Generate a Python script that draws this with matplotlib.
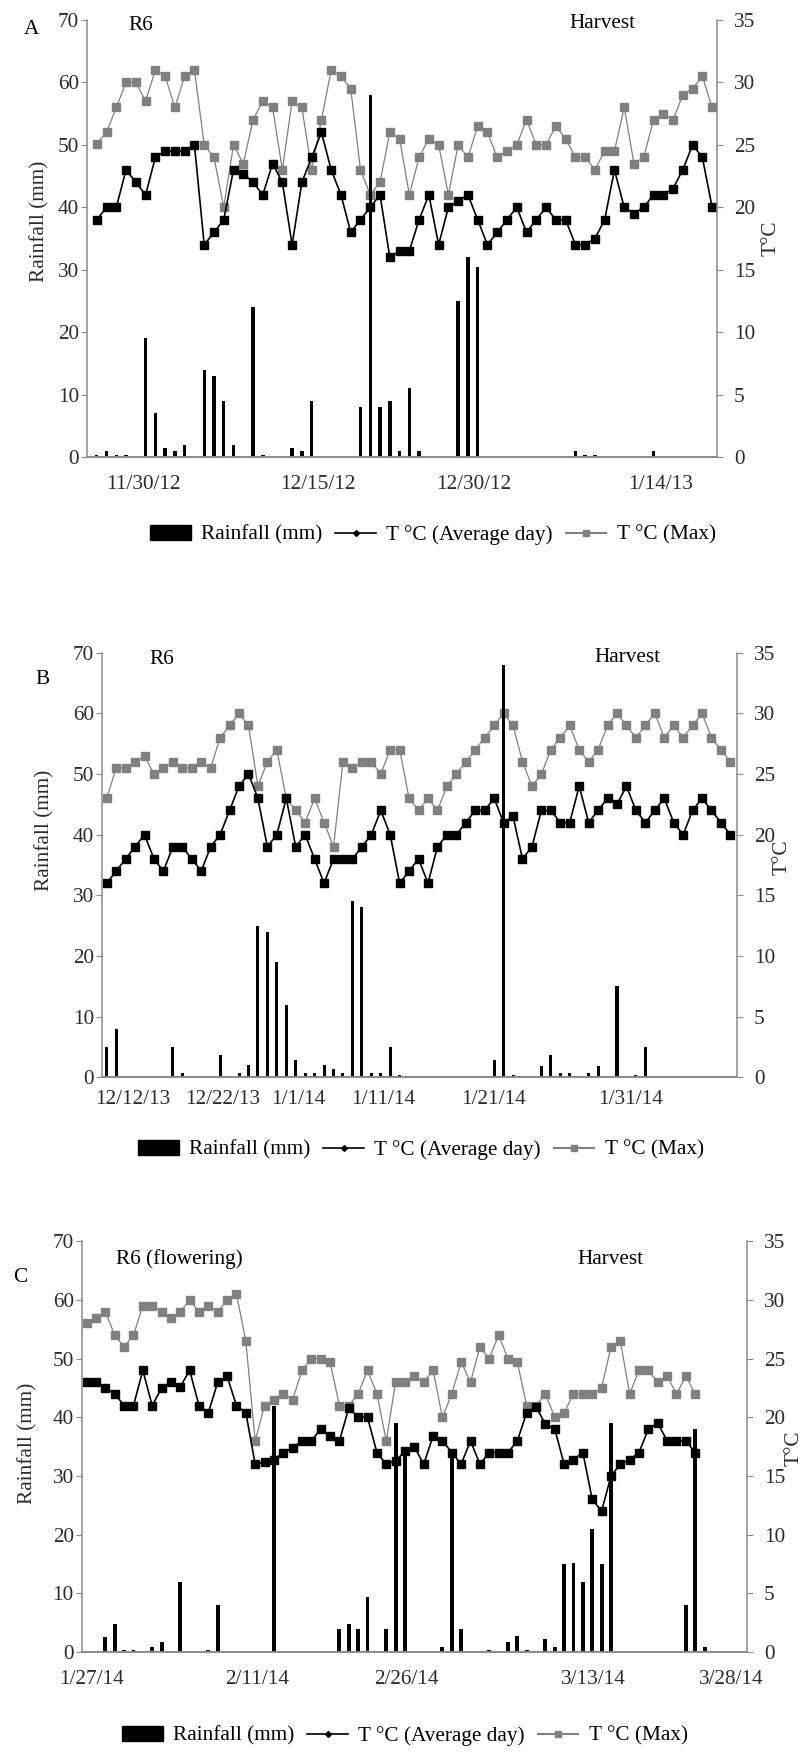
import matplotlib.pyplot as plt
from matplotlib.patches import Patch
from matplotlib.lines import Line2D
import numpy as np

plt.rcParams['font.family'] = ['Liberation Serif', 'DejaVu Serif']

W, H = 811, 1753
FS = 15.3
TXT = '#2b2b2b'
AXC = '#8a8a8a'
GRAY = '#808080'

# ---------------- panel A (daily, 64 days) ----------------
a_tmax = [25.1, 26, 28, 30, 30, 28.5, 31, 30.5, 28, 30.5,
          31, 25, 24, 20, 25, 23.5, 27, 28.5, 28, 23,
          28.5, 28, 23, 27, 31, 30.5, 29.5, 23, 21, 22,
          26, 25.5, 21, 24, 25.5, 25, 21, 25, 24, 26.5,
          26, 24, 24.5, 25, 27, 25, 25, 26.5, 25.5, 24,
          24, 23, 24.5, 24.5, 28, 23.5, 24, 27, 27.5, 27,
          29, 29.5, 30.5, 28]
a_tavg = [19, 20, 20, 23, 22, 21, 24, 24.5, 24.5, 24.5,
          25, 17, 18, 19, 23, 22.7, 22, 21, 23.5, 22,
          17, 22, 24, 26, 23, 21, 18, 19, 20, 21,
          16, 16.5, 16.5, 19, 21, 17, 20, 20.5, 21, 19,
          17, 18, 19, 20, 18, 19, 20, 19, 19, 17,
          17, 17.5, 19, 23, 20, 19.5, 20, 21, 21, 21.5,
          23, 25, 24, 20]
a_rain = [0.4, 1, 0.4, 0.4, 0, 19, 7, 1.5, 1, 2,
          0, 14, 13, 9, 2, 0, 24, 0.3, 0, 0,
          1.5, 1, 9, 0, 0, 0, 0, 8, 58, 8,
          9, 1, 11, 1, 0, 0, 0, 25, 32, 30.5,
          0, 0, 0, 0, 0, 0, 0, 0, 0, 1,
          0.4, 0.3, 0, 0, 0, 0, 0, 1, 0, 0,
          0, 0, 0, 0]
a_tick_pos = [5.8, 23.6, 39.6, 58.7]
a_tick_lab = ['11/30/12', '12/15/12', '12/30/12', '1/14/13']

# ---------------- panel B (daily, 67 days) ----------------
b_tmax = [23, 25.5, 25.5, 26, 26.5, 25, 25.5, 26, 25.5, 25.5,
          26, 25.5, 28, 29, 30, 29, 24, 26, 27, 23,
          22, 21, 23, 21, 19, 26, 25.5, 26, 26, 25,
          27, 27, 23, 22, 23, 22, 24, 25, 26, 27,
          28, 29, 30, 29, 26, 24, 25, 27, 28, 29,
          27, 26, 27, 29, 30, 29, 28, 29, 30, 28,
          29, 28, 29, 30, 28, 27, 26]
b_tavg = [16, 17, 18, 19, 20, 18, 17, 19, 19, 18,
          17, 19, 20, 22, 24, 25, 23, 19, 20, 23,
          19, 20, 18, 16, 18, 18, 18, 19, 20, 22,
          20, 16, 17, 18, 16, 19, 20, 20, 21, 22,
          22, 23, 21, 21.5, 18, 19, 22, 22, 21, 21,
          24, 21, 22, 23, 22.5, 24, 22, 21, 22, 23,
          21, 20, 22, 23, 22, 21, 20]
b_rain = [5, 8, 0, 0, 0, 0, 0, 5, 0.7, 0,
          0, 0, 3.7, 0, 0.7, 2, 25, 24, 19, 12,
          2.8, 0.7, 0.7, 2, 1.3, 0.7, 29, 28, 0.7, 0.7,
          5, 0.4, 0, 0, 0, 0, 0, 0, 0, 0,
          0, 2.8, 68, 0.4, 0, 0, 1.9, 3.7, 0.7, 0.7,
          0, 0.7, 1.9, 0, 15, 0, 0.4, 5, 0, 0,
          0, 0, 0, 0, 0, 0, 0]
b_tick_pos = [3.8, 13.3, 21.3, 30.3, 41.9, 56.4]
b_tick_lab = ['12/12/13', '12/22/13', '1/1/14', '1/11/14', '1/21/14', '1/31/14']

# ---------------- panel C (66 days temp, 67 days rain) ----------------
c_tmax = [28, 28.5, 29, 27, 26, 27, 29.5, 29.5, 29, 28.5,
          29, 30, 29, 29.5, 29, 30, 30.5, 26.5, 18, 21,
          21.5, 22, 21.5, 24, 25, 25, 24.7, 21, 21, 22,
          24, 22, 18, 23, 23, 23.5, 23, 24, 20, 22,
          24.7, 23, 26, 25, 27, 25, 24.7, 21, 21, 22,
          20, 20.4, 22, 22, 22, 22.5, 26, 26.5, 22, 24,
          24, 23, 23.5, 22, 23.5, 22]
c_tavg = [23, 23, 22.5, 22, 21, 21, 24, 21, 22.5, 23,
          22.6, 24, 21, 20.4, 23, 23.5, 21, 20.4, 16, 16.2,
          16.4, 17, 17.4, 18, 18, 19, 18.4, 18, 20.8, 20,
          20, 17, 16, 16.3, 17.1, 17.5, 16, 18.4, 18, 17,
          16, 18, 16, 17, 17, 17, 18, 20.4, 20.9, 19.4,
          19, 16, 16.4, 17, 13, 12, 15, 16, 16.4, 17,
          19, 19.5, 18, 18, 18, 17]
c_rain = [0, 0, 2.6, 4.8, 0.3, 0.3, 0, 0.9, 1.7, 0,
          12, 0, 0, 0.3, 8, 0, 0, 0, 0, 0,
          42, 0, 0, 0, 0, 0, 0, 4, 4.8, 4,
          9.3, 0, 4, 39, 34.5, 0, 0, 0, 0.9, 34,
          4, 0, 0, 0.3, 0, 1.7, 2.8, 0.3, 0, 2.3,
          0.9, 15, 15.2, 12, 21, 15, 39, 0, 0, 0,
          0, 0, 0, 0, 8, 38, 0.9]
c_tick_pos = [1.5, 19.2, 35.2, 55.1, 69.8]
c_tick_lab = ['1/27/14', '2/11/14', '2/26/14', '3/13/14', '3/28/14']


def fx(px):
    return px / W


def fy(py):
    return 1 - py / H


fig = plt.figure(figsize=(W / 100, H / 100), dpi=100)


def panel(box, tmax, tavg, rain, tpos, tlab, xlim, barw, xpad,
          ylab_l, ylab_r, texts, leg_xy):
    l, t, r, b = box
    ax = fig.add_axes([fx(l), fy(b), (r - l) / W, (b - t) / H])
    ax2 = ax.twinx()

    days_t = np.arange(1, len(tmax) + 1)
    days_r = np.arange(1, len(rain) + 1)

    ax2.plot(days_t, tmax, color=GRAY, lw=0.9, marker='s', ms=5.3,
             mfc=GRAY, mec=GRAY)
    ax2.plot(days_t, tavg, color='black', lw=1.2, marker='s', ms=5.3,
             mfc='black', mec='black')
    ax.bar(days_r, rain, width=barw, color='black')

    # rainfall bars drawn over the temperature lines
    ax.set_zorder(ax2.get_zorder() + 1)
    ax.patch.set_visible(False)

    ax.set_xlim(*xlim)
    ax.set_ylim(0, 70)
    ax2.set_ylim(0, 35)
    ax.set_yticks(np.arange(0, 71, 10))
    ax2.set_yticks(np.arange(0, 36, 5))
    ax.set_xticks(tpos)
    ax.set_xticklabels(tlab)

    for a in (ax, ax2):
        for s in a.spines.values():
            s.set_visible(False)
    for s in (ax.spines['left'], ax.spines['bottom'], ax2.spines['right']):
        s.set_visible(True)
        s.set_color(AXC)
        s.set_linewidth(1.1)
    ax.spines['bottom'].set_linewidth(1.4)

    ax.tick_params(axis='y', length=4.3, width=0.8, color=AXC, pad=1.5,
                   labelsize=FS, labelcolor=TXT)
    ax2.tick_params(axis='y', length=4.3, width=0.8, color=AXC, pad=8,
                    labelsize=FS, labelcolor=TXT)
    ax.tick_params(axis='x', length=0, pad=xpad, labelsize=FS,
                   labelcolor=TXT)

    ax.set_ylabel('Rainfall (mm)', fontsize=FS, color=TXT)
    ax.yaxis.set_label_coords(*ylab_l)
    ax2.set_ylabel('T°C', fontsize=FS, color=TXT)
    ax2.yaxis.set_label_coords(*ylab_r)

    for s, x, y in texts:
        fig.text(fx(x), fy(y), s, fontsize=FS, color='black',
                 ha='center', va='center')

    handles = [Patch(facecolor='black', edgecolor='black'),
               Line2D([], [], color='black', lw=1.2, marker='D', ms=3),
               Line2D([], [], color=GRAY, lw=1.5, marker='s', ms=5)]
    labels = ['Rainfall (mm)', 'T °C (Average day)', 'T °C (Max)']
    fig.legend(handles, labels, loc='center',
               bbox_to_anchor=(fx(leg_xy[0]), fy(leg_xy[1])), ncol=3,
               frameon=False, fontsize=FS, handlelength=1.9,
               handletextpad=0.5, columnspacing=0.6,
               borderaxespad=0, borderpad=0)
    return ax, ax2


panel((87, 20, 717, 457), a_tmax, a_tavg, a_rain, a_tick_pos, a_tick_lab,
      (0.0, 64.5), 0.35, 13, (-0.060, 0.54), (1.070, 0.5),
      [('A', 31, 29), ('R6', 141, 25), ('Harvest', 602, 23)],
      (433, 535))

panel((102, 652.7, 737, 1077.3), b_tmax, b_tavg, b_rain, b_tick_pos,
      b_tick_lab, (0.5, 67.7), 0.32, 9.5, (-0.0756, 0.582), (1.0567, 0.518),
      [('B', 42, 679), ('R6', 162, 659), ('Harvest', 627, 657)],
      (421, 1150))

panel((81.7, 1241.3, 746.7, 1652), c_tmax, c_tavg, c_rain, c_tick_pos,
      c_tick_lab, (0.47, 71.5), 0.42, 13, (-0.0672, 0.509), (1.057, 0.497),
      [('C', 20, 1277), ('R6 (flowering)', 179, 1259), ('Harvest', 610, 1259)],
      (405, 1736))

fig.savefig('out.png', dpi=100)
